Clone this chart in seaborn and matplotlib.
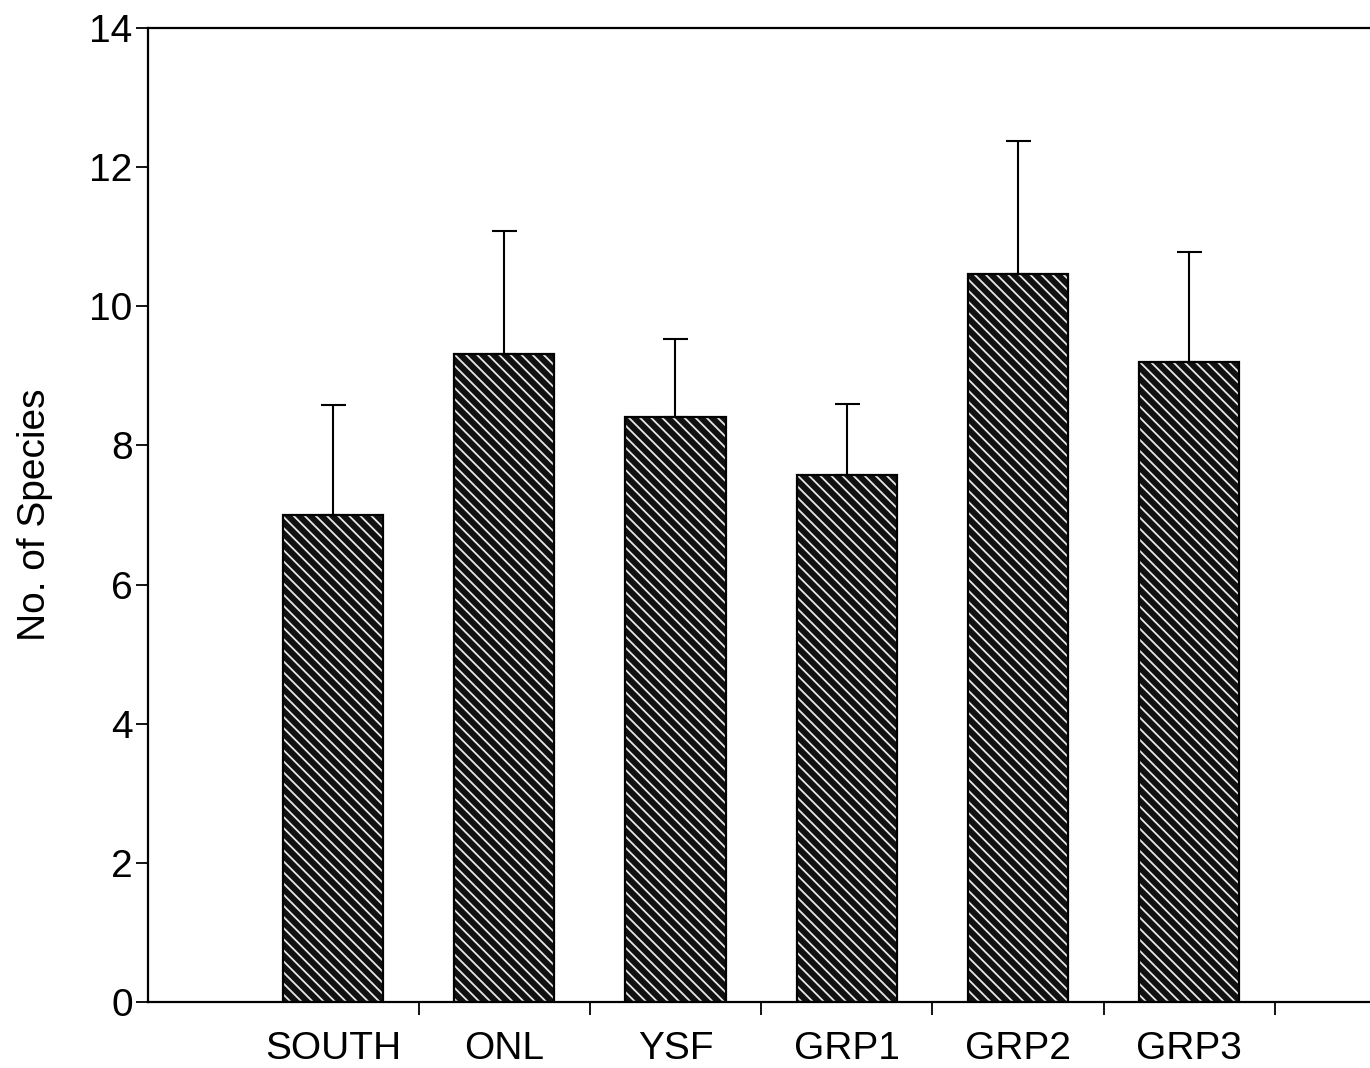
import matplotlib
matplotlib.use("Agg")
import matplotlib.pyplot as plt
import seaborn as sns
import pandas as pd
import numpy as np

categories = ["SOUTH", "ONL", "YSF", "GRP1", "GRP2", "GRP3"]
means = [7.0, 9.32, 8.41, 7.58, 10.47, 9.2]
upper = [8.58, 11.08, 9.53, 8.6, 12.37, 10.78]

sns.set_theme(style="white")
plt.rcParams['font.family'] = ['Liberation Sans', 'DejaVu Sans']
plt.rcParams['hatch.linewidth'] = 1.3
plt.rcParams['text.color'] = 'black'
plt.rcParams['xtick.color'] = 'black'
plt.rcParams['ytick.color'] = 'black'
plt.rcParams['axes.labelcolor'] = 'black'

df = pd.DataFrame({"site": categories, "mean": means})

fig = plt.figure(figsize=(13.7, 10.68), dpi=100)
ax = fig.add_axes([0.108, 0.0618, 0.95, 0.912])

sns.barplot(data=df, x="site", y="mean", order=categories, width=0.585,
            color="#111111", errorbar=None, ax=ax, saturation=1)
for p in ax.patches:
    p.set_hatch("\\\\\\")
    p.set_edgecolor("#e8e8e8")
    p.set_linewidth(0)
sns.barplot(data=df, x="site", y="mean", order=categories, width=0.585,
            fill=False, edgecolor="black", linewidth=1.6, errorbar=None, ax=ax)

x = np.arange(len(categories))
err = np.array(upper) - np.array(means)
ax.errorbar(x, means, yerr=[np.zeros_like(err), err], fmt="none",
            ecolor="black", elinewidth=1.5, capsize=9, capthick=1.5)

ax.set_ylim(0, 14)
ax.set_xlim(-1.08, 6.52)
ax.set_yticks(range(0, 15, 2))
ax.set_xticks(x)
ax.set_xticklabels(categories)
ax.set_xticks(np.arange(0.5, 6.0, 1.0), minor=True)
ax.tick_params(axis="x", which="major", length=0, pad=21, labelsize=28)
ax.tick_params(axis="x", which="minor", length=9, width=1.3, direction="out", bottom=True, color="black")
ax.tick_params(axis="y", length=9, width=1.3, direction="out", left=True, labelsize=28, pad=2, color="black")
ax.set_xlabel("")
ax.set_ylabel("No. of Species", fontsize=28, labelpad=26)

for s in ["left", "bottom", "top"]:
    ax.spines[s].set_visible(True)
    ax.spines[s].set_color("black")
    ax.spines[s].set_linewidth(1.6)
ax.spines["right"].set_visible(False)

fig.savefig("out.png", dpi=100)
